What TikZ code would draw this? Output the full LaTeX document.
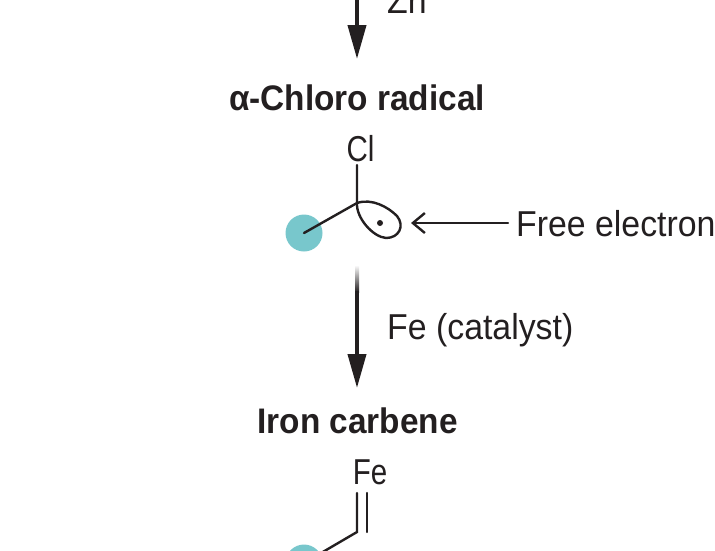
\documentclass[tikz,border=0pt]{standalone}
\usepackage{fontspec}
\setmainfont[FakeStretch=0.94]{Liberation Sans}
\newfontfamily\atomfont[FakeStretch=0.82]{Liberation Sans}
\usetikzlibrary{arrows.meta}
\definecolor{ink}{HTML}{231F20}
\definecolor{disc}{HTML}{78C7CC}
\tikzstyle{heading} = [inner sep=0pt, text=ink, font=\fontsize{35.5}{36}\selectfont\bfseries]
\tikzstyle{note} = [inner sep=0pt, text=ink, font=\fontsize{36}{36}\selectfont]
\tikzstyle{atom} = [inner sep=0pt, text=ink, font=\fontsize{36}{36}\atomfont]
\tikzstyle{bond} = [draw=ink, line width=2.4pt, line cap=round]
\tikzstyle{reaction} = [draw=ink, line width=4pt, -{Triangle[length=34pt,width=18pt]}]
\tikzstyle{blob} = [circle, fill=disc, minimum size=37pt, inner sep=0pt]
\begin{document}
\begin{tikzpicture}[x=1pt, y=-1pt]
\useasboundingbox (0,0) rectangle (715,550);
\clip (0,0) rectangle (715,550);
% top
\coordinate (in) at (357,-2);
\coordinate (outa) at (357,59);
\draw[reaction] (in) -- (outa);
\node[note, anchor=base west] (zn) at (387,13) {Zn};
% radical
\node[heading, anchor=base] (radical) at (357,110) {α-Chloro radical};
\node[atom, anchor=base] (cl) at (360.5,161) {Cl};
\node[blob] (groupa) at (304,233) {};
\coordinate (ca) at (357,203);
\coordinate (bonda) at (357,165);
\coordinate (dotc) at (380,223);
\draw[bond] (bonda) -- (ca) -- (groupa.center);
\draw[bond] (ca) .. controls (372,198) and (388,207) .. (397,216)
    .. controls (405,226) and (399,238) .. (386,238)
    .. controls (373,237) and (356,218) .. (ca);
\fill[ink] (dotc) circle (3pt);
\node[note, anchor=base west] (free) at (516,236) {Free electron};
\coordinate (tipa) at (411,223);
\coordinate (taila) at (508,223);
\draw[bond, -{Straight Barb[length=12pt,width=20pt,line width=2.4pt]}] (taila) -- (tipa);
% step to the carbene
\shade[top color=white, bottom color=ink] (355,265) rectangle (359,292);
\coordinate (inb) at (357,291);
\coordinate (outb) at (357,388);
\draw[reaction] (inb) -- (outb);
\node[note, anchor=base west] (fe) at (387,339) {Fe (catalyst)};
% carbene
\node[heading, anchor=base] (carbene) at (357.5,433) {Iron carbene};
\node[atom, anchor=base] (iron) at (370,484) {Fe};
\node[blob] (groupb) at (304,563) {};
\coordinate (cb) at (357,532);
\coordinate (bondb) at (357,493);
\coordinate (bondc) at (367,493);
\coordinate (cc) at (367,532);
\draw[bond] (bondb) -- (cb) -- (groupb.center);
\draw[bond] (bondc) -- (cc);
\end{tikzpicture}
\end{document}
